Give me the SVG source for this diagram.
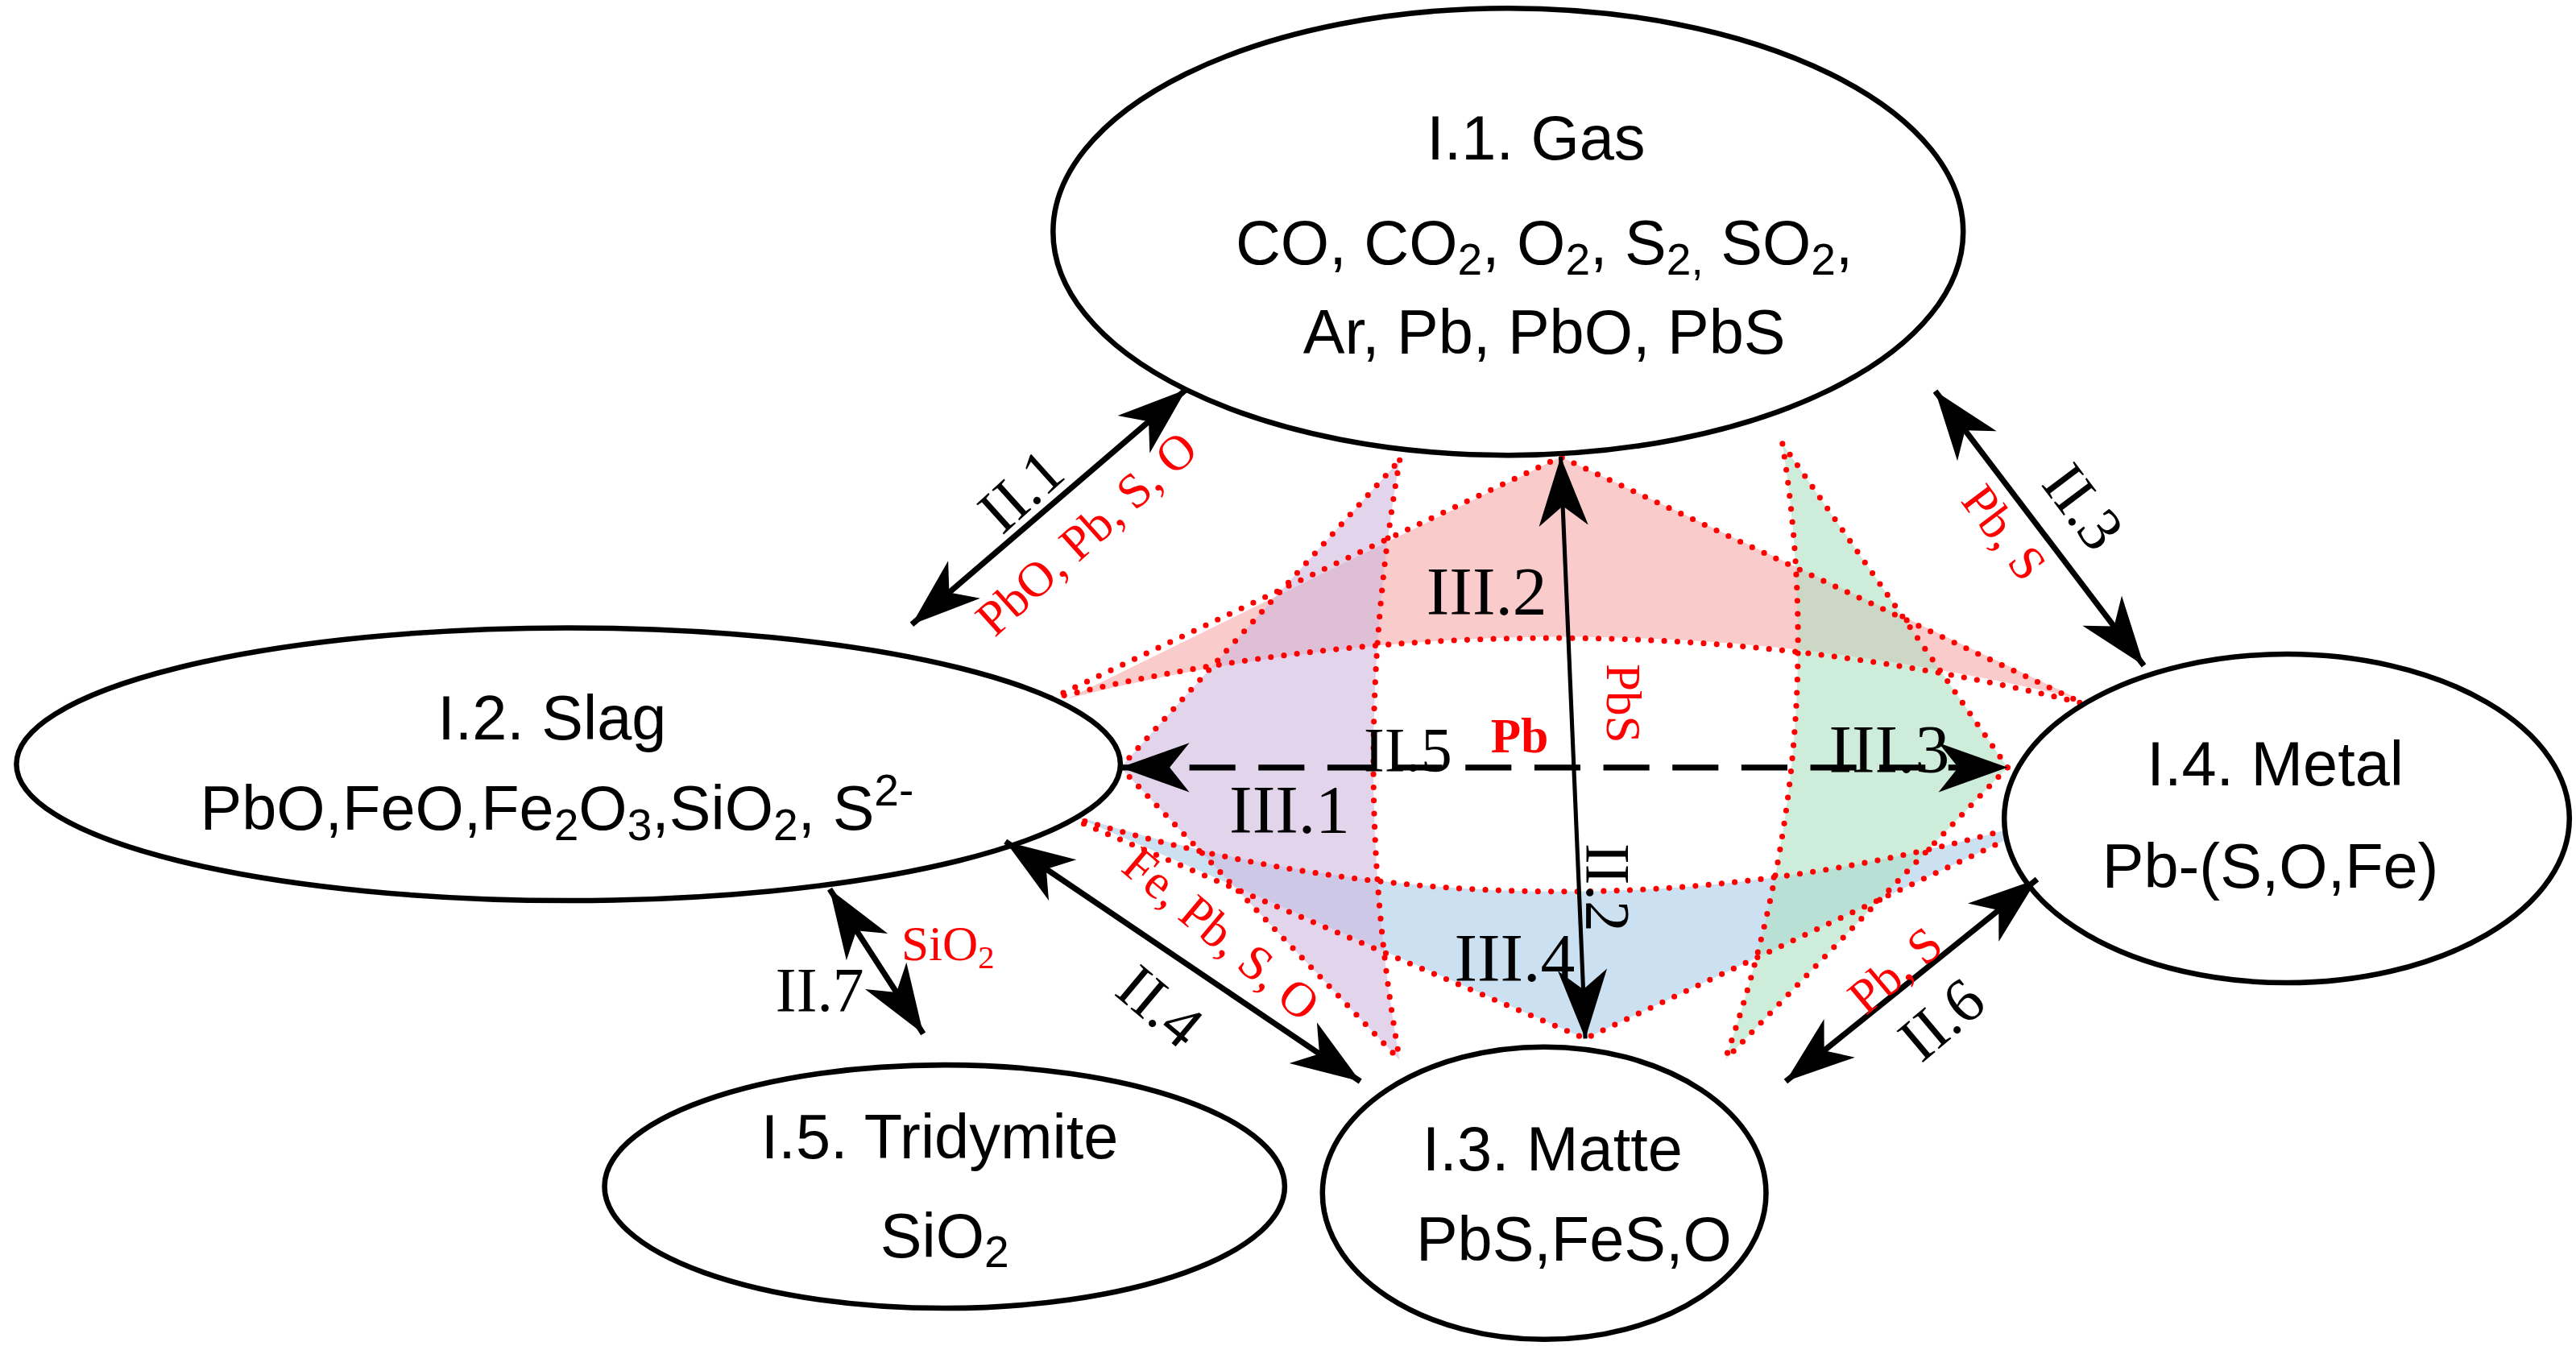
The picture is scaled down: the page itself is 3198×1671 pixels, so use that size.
<svg xmlns="http://www.w3.org/2000/svg" width="3198" height="1671" viewBox="0 0 3198 1671">
<style>
.node{fill:#fff;stroke:#000;stroke-width:3.2}
.nt{font-family:"Liberation Sans",Arial,sans-serif;font-size:38px;fill:#000;text-anchor:middle}
.dot{fill:none;stroke:#f00;stroke-width:3.5;stroke-dasharray:0 8;stroke-linecap:round}
.lb{font-family:"Liberation Serif","Times New Roman",serif;font-size:38px;fill:#000;text-anchor:middle}
.rl{font-family:"Liberation Serif","Times New Roman",serif;font-size:30px;fill:#f00;text-anchor:middle}
.iii{font-family:"Liberation Serif","Times New Roman",serif;font-size:42px;fill:#000;text-anchor:middle}
.arr{stroke:#000;stroke-width:3.5;fill:none;marker-start:url(#ah);marker-end:url(#ah)}
</style>
<defs>
<marker id="ah" markerUnits="userSpaceOnUse" viewBox="-44 -17 46 34" refX="0" refY="0" markerWidth="46" markerHeight="34" orient="auto-start-reverse">
<path d="M0,0 L-42,-15 L-30,0 L-42,15 Z" fill="#000"/>
</marker>
</defs>
<rect width="3198" height="1671" fill="#fff"/>
<g transform="scale(2.0395,2.0403)">
<g id="regions">
<path d="M650,425 L950,278 L1265,425 Q950,350 650,425 Z" fill="#f7a8a8" fill-opacity="0.6"/>
<path d="M650,495 L965,632 L1255,495 Q950,590 650,495 Z" fill="#a9cbe8" fill-opacity="0.6"/>
<path d="M682,467 L852,280 Q820,465 852,645 Z" fill="#cdb8de" fill-opacity="0.6"/>
<path d="M1222,467 L1085,270 Q1115,460 1050,645 Z" fill="#aee0c2" fill-opacity="0.6"/>
<path class="dot" d="M640,425 L950,278 L1268,428"/>
<path class="dot" d="M640,425 Q950,350 1268,428"/>
<path class="dot" d="M645,495 L965,632 L1255,495"/>
<path class="dot" d="M645,495 Q950,590 1255,495"/>
<path class="dot" d="M682,467 L852,280"/>
<path class="dot" d="M682,467 L852,645"/>
<path class="dot" d="M852,280 Q820,465 852,645"/>
<path class="dot" d="M1222,467 L1085,270"/>
<path class="dot" d="M1222,467 L1050,645"/>
<path class="dot" d="M1085,270 Q1115,460 1050,645"/>
</g>
<g id="gas"><ellipse class="node" cx="918" cy="141" rx="277" ry="136"/>
<text class="nt" x="935" y="97">I.1. Gas</text>
<text class="nt" x="940" y="161">CO, CO<tspan font-size="27" dy="6">2</tspan><tspan dy="-6">, O</tspan><tspan font-size="27" dy="6">2</tspan><tspan dy="-6">, S</tspan><tspan font-size="27" dy="6">2,</tspan><tspan dy="-6"> SO</tspan><tspan font-size="27" dy="6">2</tspan><tspan dy="-6">,</tspan></text>
<text class="nt" x="940" y="215">Ar, Pb, PbO, PbS</text></g>
<g id="slag"><ellipse class="node" cx="346" cy="465" rx="336" ry="83"/>
<text class="nt" x="336" y="450">I.2. Slag</text>
<text class="nt" x="339" y="505">PbO,FeO,Fe<tspan font-size="27" dy="6">2</tspan><tspan dy="-6">O</tspan><tspan font-size="27" dy="6">3</tspan><tspan dy="-6">,SiO</tspan><tspan font-size="27" dy="6">2</tspan><tspan dy="-6">, S</tspan><tspan font-size="27" dy="-15">2-</tspan></text></g>
<g id="metal"><ellipse class="node" cx="1392" cy="498" rx="172" ry="100"/>
<text class="nt" x="1385" y="478">I.4. Metal</text>
<text class="nt" x="1382" y="540">Pb-(S,O,Fe)</text></g>
<g id="tridymite"><ellipse class="node" cx="575" cy="722" rx="207" ry="74"/>
<text class="nt" x="572" y="705">I.5. Tridymite</text>
<text class="nt" x="575" y="765">SiO<tspan font-size="27" dy="6">2</tspan></text></g>
<g id="matte"><ellipse class="node" cx="940" cy="726" rx="135" ry="89"/>
<text class="nt" x="945" y="712">I.3. Matte</text>
<text class="nt" x="958" y="767">PbS,FeS,O</text></g>
<g id="connectors">
<line class="arr" x1="555" y1="380" x2="722" y2="237"/>
<line class="arr" x1="1178" y1="238" x2="1305" y2="405"/>
<line class="arr" x1="950" y1="278" x2="965" y2="632" style="stroke-width:2.5"/>
<line class="arr" x1="682" y1="467" x2="1222" y2="467" style="stroke-dasharray:28 14"/>
<line class="arr" x1="612" y1="512" x2="828" y2="658"/>
<line class="arr" x1="1087" y1="658" x2="1240" y2="535"/>
<line class="arr" x1="505" y1="541" x2="562" y2="629"/>
</g>
<g id="labels">
<text class="lb" transform="translate(630,308) rotate(-42)">II.1</text>
<text class="rl" transform="translate(668,332) rotate(-42)">PbO, Pb, S, O</text>
<text class="lb" transform="translate(1258,316) rotate(53)">II.3</text>
<text class="rl" transform="translate(1212,330) rotate(53)">Pb, S</text>
<text class="lb" transform="translate(966,540) rotate(90)">II.2</text>
<text class="rl" transform="translate(978,428) rotate(90)" font-size="26">PbS</text>
<text class="lb" x="857" y="469">II.5</text>
<text class="rl" x="925" y="458" font-size="28" font-weight="bold">Pb</text>
<text class="lb" transform="translate(698,622) rotate(40)">II.4</text>
<text class="rl" transform="translate(737,576) rotate(40)">Fe, Pb, S, O</text>
<text class="lb" transform="translate(1190,630) rotate(-40)">II.6</text>
<text class="rl" transform="translate(1160,598) rotate(-40)">Pb, S</text>
<text class="lb" x="499" y="615">II.7</text>
<text class="rl" x="577" y="584" font-size="30">SiO<tspan font-size="20" dy="5">2</tspan></text>
<text class="iii" x="905" y="374">III.2</text>
<text class="iii" x="785" y="507">III.1</text>
<text class="iii" x="1150" y="470">III.3</text>
<text class="iii" x="922" y="597">III.4</text>
</g>
</g>
</svg>
